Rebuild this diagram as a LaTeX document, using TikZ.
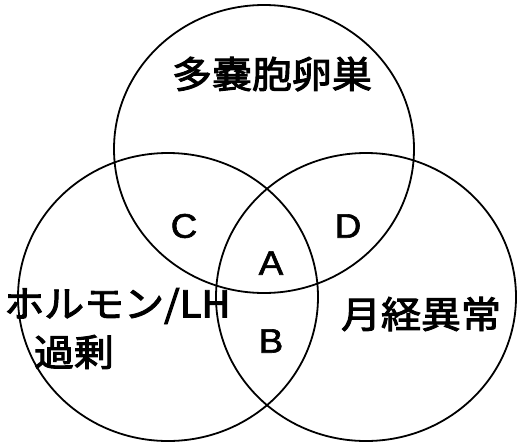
\documentclass[tikz,border=0pt]{standalone}
\usepackage{fontspec}
\setmainfont{Noto Sans CJK JP}
\newfontfamily\medcjk[FakeBold=2.6]{Noto Sans CJK JP}
\newfontfamily\lettfont[FakeBold=1.8]{Liberation Sans}
\usetikzlibrary{shapes.geometric}
\begin{document}
\begin{tikzpicture}[x=1pt,y=-1pt,
  setc/.style={ellipse, draw, line width=1.8pt, inner sep=0pt, outer sep=0pt,
    minimum width=300pt, minimum height=288pt},
  biglbl/.style={inner sep=0pt, xscale=1.08, font=\fontsize{37}{40}\medcjk},
  letter/.style={inner sep=0pt, xscale=1.08, font=\fontsize{34}{36}\lettfont}]
\useasboundingbox[fill=white] (0,0) rectangle (518,444);
\node[setc] (top) at (264,149) {};
\node[setc] (left) at (168,297) {};
\node[setc] (right) at (366,297) {};
\node[biglbl] (ltop) at (272,74) {多嚢胞卵巣};
\node[biglbl] (lright) at (421,314) {月経異常};
\node[biglbl, anchor=west] (lleft) at (4,306) {ホルモン/LH};
\node[biglbl] (lleft2) at (74,352) {過剰};
\node[letter] (c) at (184,226) {C};
\node[letter] (d) at (348,226) {D};
\node[letter] (a) at (271,263) {A};
\node[letter] (b) at (271,341) {B};
\end{tikzpicture}
\end{document}
